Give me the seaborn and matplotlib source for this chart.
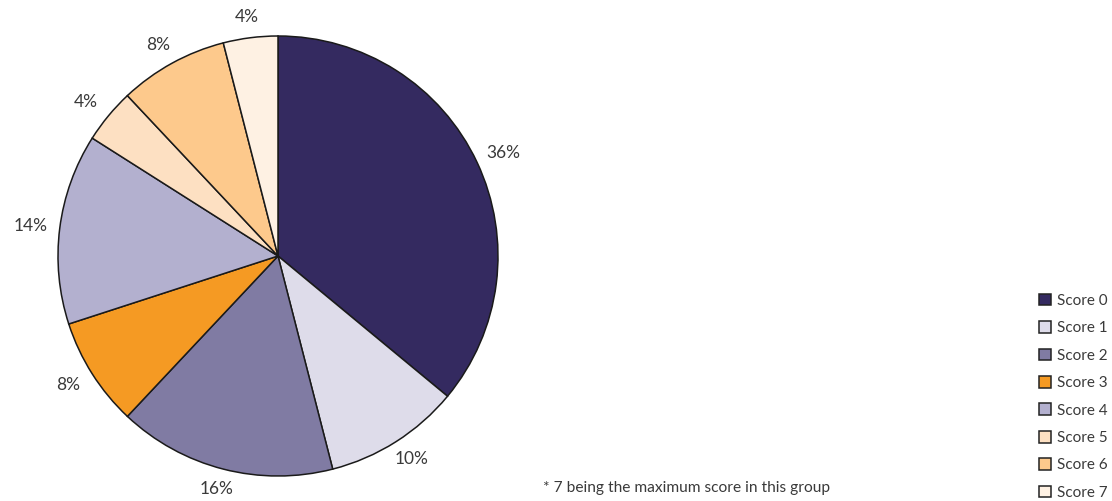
import matplotlib
matplotlib.use("Agg")
import numpy as np
import matplotlib.pyplot as plt
from matplotlib.patches import Patch
import seaborn as sns

# Share of respondents by score
scores = ["Score 0", "Score 1", "Score 2", "Score 3", "Score 4", "Score 5", "Score 6", "Score 7"]
shares = [36, 10, 16, 8, 14, 4, 8, 4]
colors = ["#342A60", "#DEDCEA", "#807BA3", "#F59A23", "#B3B0CF", "#FDE0C2", "#FDC98C", "#FEF1E3"]
footnote = "* 7 being the maximum score in this group"

sns.set_theme(style="white")
plt.rcParams["font.family"] = ["Lato", "DejaVu Sans"]
text_color = "#3a3a3a"

W, H = 1112, 501
fig = plt.figure(figsize=(W / 100, H / 100), dpi=100)

# pie area: centre (278, 256) px, radius 220 px
cx, cy, r = 278, 256, 220
ax = fig.add_axes([(cx - r) / W, (H - cy - r) / H, 2 * r / W, 2 * r / H])

wedges, _ = ax.pie(
    shares,
    colors=colors,
    startangle=90,
    counterclock=False,
    wedgeprops=dict(edgecolor="#1a1a1a", linewidth=1.1),
)
ax.set_xlim(-1, 1)
ax.set_ylim(-1, 1)
ax.set_aspect("equal")
ax.axis("off")

# percentage labels sit a fixed gap outside the rim, offset by half the text box
gap, half_w, half_h = 14 / r, 15 / r, 7 / r
for w, v in zip(wedges, shares):
    ang = np.deg2rad((w.theta1 + w.theta2) / 2)
    ux, uy = np.cos(ang), np.sin(ang)
    x = (1 + gap) * ux + half_w * ux
    y = (1 + gap) * uy + half_h * uy
    ax.text(x, y, f"{v}%", ha="center", va="center", fontsize=12.5,
            color=text_color, clip_on=False)

handles = [Patch(facecolor=c, edgecolor="#222222", linewidth=1.1) for c in colors]
fig.legend(
    handles, scores,
    loc="lower left",
    bbox_to_anchor=(1033 / W, -5 / H),
    frameon=False,
    fontsize=11,
    handlelength=0.8,
    handleheight=0.8,
    handletextpad=0.35,
    labelspacing=0.87,
    borderaxespad=0,
    labelcolor=text_color,
)

fig.text(543 / W, 1 - 488 / H, footnote, fontsize=11.2, color=text_color,
         ha="left", va="center")

fig.savefig("out.png", dpi=100)
